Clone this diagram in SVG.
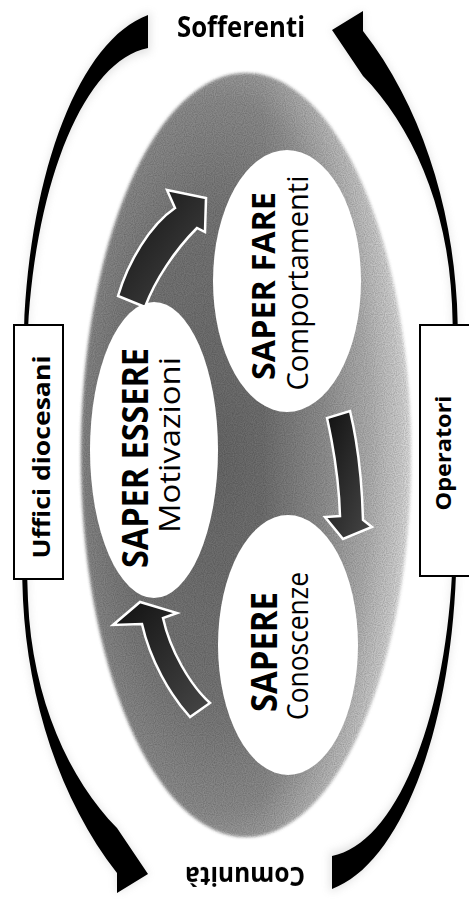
<svg xmlns="http://www.w3.org/2000/svg" width="469" height="899" viewBox="0 0 469 899">
  <defs>
    <radialGradient id="ringGrad" cx="0.42" cy="0.5" r="0.58">
      <stop offset="0" stop-color="#6a6a6a"/>
      <stop offset="0.55" stop-color="#777"/>
      <stop offset="0.8" stop-color="#8c8c8c"/>
      <stop offset="0.95" stop-color="#acacac"/>
      <stop offset="1" stop-color="#c6c6c6"/>
    </radialGradient>
    <linearGradient id="ringLight" x1="0" y1="0" x2="1" y2="0">
      <stop offset="0.55" stop-color="#fff" stop-opacity="0"/>
      <stop offset="1" stop-color="#fff" stop-opacity="0.45"/>
    </linearGradient>
    <linearGradient id="arrowGrad" x1="0" y1="0" x2="1" y2="1">
      <stop offset="0" stop-color="#111"/>
      <stop offset="1" stop-color="#474747"/>
    </linearGradient>
    <filter id="grain" x="-0.05" y="-0.05" width="1.1" height="1.1">
      <feGaussianBlur in="SourceGraphic" stdDeviation="1.5" result="b"/>
      <feTurbulence type="fractalNoise" baseFrequency="0.9" numOctaves="1" seed="3" result="n"/>
      <feColorMatrix in="n" type="matrix" values="0 0 0 0 0  0 0 0 0 0  0 0 0 0 0  0.7 0 0 0 -0.2" result="na"/>
      <feComposite in="na" in2="b" operator="in" result="nc"/>
      <feMerge><feMergeNode in="b"/><feMergeNode in="nc"/></feMerge>
    </filter>
    <filter id="halo" x="-0.3" y="-0.1" width="1.6" height="1.2">
      <feGaussianBlur stdDeviation="4"/>
    </filter>
  </defs>
  <style>
    .lbl { font-family: "Open Sans", "Liberation Sans", sans-serif; fill: #000; text-anchor: middle; }
    .b { font-weight: 700; }
    .r { font-weight: 500; }
    .node { fill: #fff; }
    .box { fill: #fff; stroke: #000; stroke-width: 2; }
    .outer { fill: #000; }
    .inner { fill: url(#arrowGrad); stroke: #fff; stroke-width: 2.5; stroke-linejoin: miter; }
  </style>

  <rect width="469" height="899" fill="#fff"/>

  <!-- background ring -->
  <g id="cycle-background" filter="url(#grain)">
    <ellipse cx="246" cy="455" rx="165" ry="382" fill="url(#ringGrad)"/>
    <ellipse cx="246" cy="455" rx="165" ry="382" fill="url(#ringLight)"/>
  </g>

  <!-- nodes -->
  <g id="saper-fare">
    <ellipse class="node" cx="287" cy="281" rx="74" ry="131"/>
    <text class="lbl b" font-size="33" transform="translate(275,286) rotate(-90)" textLength="188" lengthAdjust="spacingAndGlyphs">SAPER FARE</text>
    <text class="lbl r" font-size="29" transform="translate(308,283) rotate(-90)" textLength="215" lengthAdjust="spacingAndGlyphs">Comportamenti</text>
  </g>

  <g id="saper-essere">
    <ellipse class="node" cx="154" cy="450" rx="64" ry="148"/>
    <text class="lbl b" font-size="35" transform="translate(148,458) rotate(-90)" textLength="220" lengthAdjust="spacingAndGlyphs">SAPER ESSERE</text>
    <text class="lbl r" font-size="30" transform="translate(180,445) rotate(-90)" textLength="176" lengthAdjust="spacingAndGlyphs">Motivazioni</text>
  </g>

  <g id="sapere">
    <ellipse class="node" cx="288" cy="645" rx="70" ry="130"/>
    <text class="lbl b" font-size="35" transform="translate(277,652) rotate(-90)" textLength="120" lengthAdjust="spacingAndGlyphs">SAPERE</text>
    <text class="lbl r" font-size="30" transform="translate(308,646) rotate(-90)" textLength="148" lengthAdjust="spacingAndGlyphs">Conoscenze</text>
  </g>

  <!-- connectors -->
  <g id="connectors">
    <!-- faint halo behind the outer arrows -->
    <g opacity="0.25" filter="url(#halo)">
      <path fill="#888" d="M150,12 C80,40 30,170 24,330 C20,420 20,520 23,600 C28,700 60,800 117,873 L117,893 L148,874 L117,828 C70,780 32,700 28,600 C25,520 25,420 28,330 C36,180 85,60 150,52 Z"/>
      <path fill="#888" transform="rotate(180 240 452)" d="M150,12 C80,40 30,170 24,330 C20,420 20,520 23,600 C28,700 60,800 117,873 L117,893 L148,874 L117,828 C70,780 32,700 28,600 C25,520 25,420 28,330 C36,180 85,60 150,52 Z"/>
    </g>
    <!-- outer sweeping arrows -->
    <path class="outer" d="M148,15 C80,40 30,170 24,330 C20,420 20,520 23,600 C28,700 60,800 117,873 L117,893 L148,874 L117,828 C70,780 32,700 28,600 C25,520 25,420 28,330 C36,180 85,60 148,48 Z"/>
    <path class="outer" transform="rotate(180 240 452)" d="M148,15 C80,40 30,170 24,330 C20,420 20,520 23,600 C28,700 60,800 117,873 L117,893 L148,874 L117,828 C70,780 32,700 28,600 C25,520 25,420 28,330 C36,180 85,60 148,48 Z"/>
    <!-- inner cycle arrows -->
    <path class="inner" d="M118,296 C128,262 150,225 175,208 L167,190 L206,198 L205,232 L197,228 C175,250 155,280 145,307 Z"/>
    <path class="inner" d="M327,418 C333,445 339,480 340,516 L325,517 L343,539 L372,527 L363,520 C362,480 357,440 350,411 Z"/>
    <path class="inner" d="M190,717 C170,695 150,660 142,624 L113,625 L140,602 L177,613 L163,618 C170,650 190,685 210,703 Z"/>
  </g>

  <g id="uffici-diocesani">
    <rect class="box" x="14" y="325" width="49" height="254"/>
    <text class="lbl b" font-size="24" transform="translate(50,457) rotate(-90)" textLength="203" lengthAdjust="spacingAndGlyphs">Uffici diocesani</text>
  </g>

  <g id="operatori">
    <rect class="box" x="420" y="325" width="56" height="251"/>
    <text class="lbl b" font-size="22" transform="translate(451,453) rotate(-90)" textLength="115" lengthAdjust="spacingAndGlyphs">Operatori</text>
  </g>

  <g id="sofferenti">
    <text class="lbl b" font-size="28" x="241" y="37" textLength="128" lengthAdjust="spacingAndGlyphs">Sofferenti</text>
  </g>

  <g id="comunita">
    <text class="lbl b" font-size="27" transform="translate(245,867) rotate(180)" textLength="120" lengthAdjust="spacingAndGlyphs">Comunità</text>
  </g>
</svg>
